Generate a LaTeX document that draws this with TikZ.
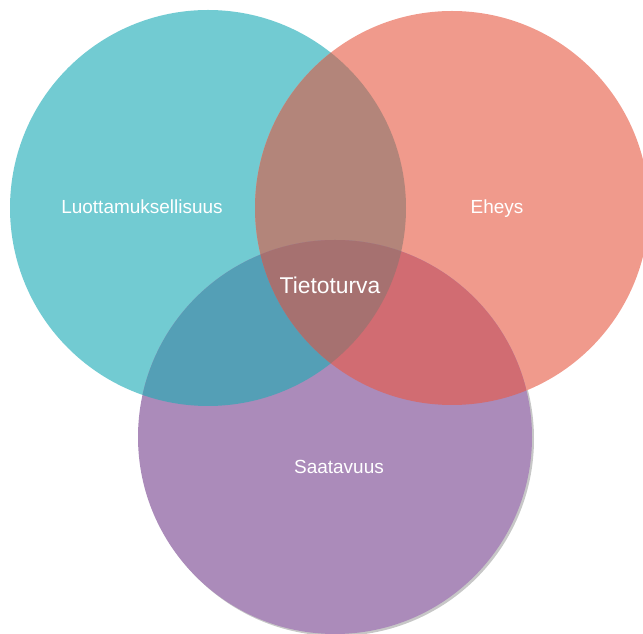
\documentclass[tikz,border=0pt]{standalone}
\usepackage{fontspec}
\setmainfont{Liberation Sans}
\definecolor{luotcol}{HTML}{72CBD2}
\definecolor{eheycol}{HTML}{F09A8C}
\definecolor{saatcol}{HTML}{AB8BBA}
\definecolor{lecol}{HTML}{B3857A}
\definecolor{lscol}{HTML}{549FB6}
\definecolor{escol}{HTML}{D16C72}
\definecolor{allcol}{HTML}{A67170}
\tikzset{
  setlabel/.style={text=white, font=\fontsize{10.8}{13}\selectfont},
  mainlabel/.style={text=white, font=\fontsize{13}{15}\selectfont}
}
\begin{document}
\begin{tikzpicture}[x=0.02cm, y=-0.02cm]
\useasboundingbox (0,0) rectangle (643,634);
\coordinate (cL) at (208,208);
\coordinate (cE) at (452,208);
\coordinate (cS) at (335,437);
\coordinate (cSs) at (337,439);

% sets
\fill[black!22] (cSs) circle (197);
\fill[luotcol] (cL) circle (198);
\fill[eheycol] (cE) circle (197);
\fill[saatcol] (cS) circle (197);

% overlaps
\begin{scope}
  \clip (cL) circle (198);
  \fill[lecol] (cE) circle (197);
  \fill[lscol] (cS) circle (197);
\end{scope}
\begin{scope}
  \clip (cE) circle (197);
  \fill[escol] (cS) circle (197);
\end{scope}
\begin{scope}
  \clip (cL) circle (198);
  \clip (cE) circle (197);
  \fill[allcol] (cS) circle (197);
\end{scope}

\node[setlabel] (luot) at (142,207) {Luottamuksellisuus};
\node[setlabel] (ehey) at (497,209) {Eheys};
\node[setlabel] (saat) at (339,467) {Saatavuus};
\node[mainlabel] (tieto) at (330,285) {Tietoturva};
\end{tikzpicture}
\end{document}
